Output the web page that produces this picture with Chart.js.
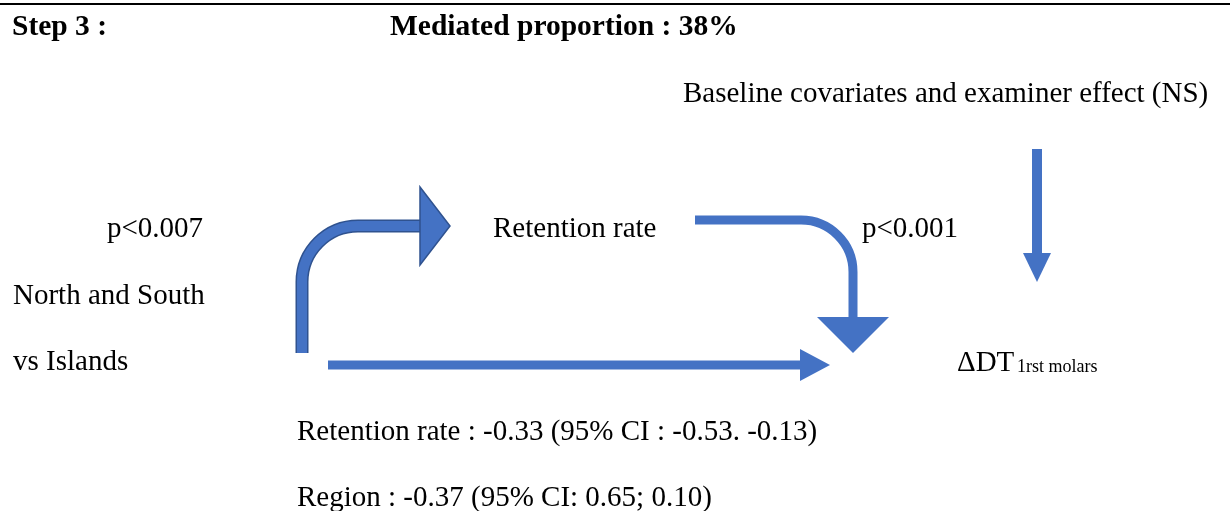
<!DOCTYPE html>
<html>
<head>
<meta charset="utf-8">
<script src="https://cdn.jsdelivr.net/npm/chart.js@4/dist/chart.umd.min.js"></script>
<style>
  html, body { margin: 0; padding: 0; background: #fff; }
  #wrap { width: 1230px; height: 511px; }
</style>
</head>
<body>
<div id="wrap"><canvas id="diagram" width="1230" height="511"></canvas></div>
<script>
// texts of the diagram
var labelTexts = ['Step 3 :', 'Mediated proportion : 38%', 'Baseline covariates and examiner effect (NS)',
  'p<0.007', 'Retention rate', 'p<0.001', 'North and South', 'vs Islands', '\u0394DT',
  'Retention rate : -0.33 (95% CI : -0.53. -0.13)', 'Region : -0.37 (95% CI: 0.65; 0.10)'];
var labelX = [12, 390, 683, 107, 493, 862, 13, 13, 957, 297, 297];
var labelY = [35, 35, 102, 237, 237, 237, 304, 370, 371, 440, 506];
var labelBold = [true, true, false, false, false, false, false, false, false, false, false];
var subText = '1rst molars';
var subPos = [1017, 372];

// arrow paths (waypoints) in diagram units
var arrowPaths = [
  [[302, 353], [302, 226], [420, 226]],
  [[695, 220], [853, 220], [853, 317]],
  [[328, 365], [800, 365]],
  [[1037, 149], [1037, 253]]
];
var arrowRadius = [56, 52, 0, 0];
var arrowWidth = [10, 9, 9, 10];
var headLen = [30, 36, 30, 29];
var headHalf = [39, 36, 16, 14];
var arrowOutline = [true, false, false, false];

var topRule = [[0, 4], [1230, 4]];

var fillBlue = '#4472c4';
var edgeBlue = '#2f528f';
var serif = '"Liberation Serif", "Times New Roman", serif';

var diagramPlugin = {
  id: 'diagram',
  afterDatasetsDraw: function (chart) {
    var ctx = chart.ctx;
    var sx = chart.scales.x, sy = chart.scales.y;
    function px(p) { return [sx.getPixelForValue(p[0]), sy.getPixelForValue(p[1])]; }

    ctx.save();
    // arrows
    for (var i = 0; i < arrowPaths.length; i++) {
      var pts = arrowPaths[i].map(px);
      var trace = function () {
        ctx.beginPath();
        ctx.moveTo(pts[0][0], pts[0][1]);
        for (var k = 1; k < pts.length - 1; k++) {
          ctx.arcTo(pts[k][0], pts[k][1], pts[k + 1][0], pts[k + 1][1], arrowRadius[i]);
        }
        ctx.lineTo(pts[pts.length - 1][0], pts[pts.length - 1][1]);
      };
      ctx.lineCap = 'butt';
      if (arrowOutline[i]) {
        trace();
        ctx.strokeStyle = edgeBlue;
        ctx.lineWidth = arrowWidth[i] + 3;
        ctx.stroke();
      }
      trace();
      ctx.strokeStyle = fillBlue;
      ctx.lineWidth = arrowWidth[i];
      ctx.stroke();

      // head
      var a = pts[pts.length - 2], b = pts[pts.length - 1];
      var dx = b[0] - a[0], dy = b[1] - a[1];
      var len = Math.sqrt(dx * dx + dy * dy);
      dx /= len; dy /= len;
      var nx = -dy, ny = dx;
      ctx.beginPath();
      ctx.moveTo(b[0] + nx * headHalf[i], b[1] + ny * headHalf[i]);
      ctx.lineTo(b[0] + dx * headLen[i], b[1] + dy * headLen[i]);
      ctx.lineTo(b[0] - nx * headHalf[i], b[1] - ny * headHalf[i]);
      ctx.closePath();
      ctx.fillStyle = fillBlue;
      ctx.fill();
      if (arrowOutline[i]) {
        ctx.strokeStyle = edgeBlue;
        ctx.lineWidth = 1.5;
        ctx.stroke();
      }
    }

    // top rule
    var r0 = px(topRule[0]), r1 = px(topRule[1]);
    ctx.beginPath();
    ctx.moveTo(r0[0], r0[1]);
    ctx.lineTo(r1[0], r1[1]);
    ctx.strokeStyle = '#000';
    ctx.lineWidth = 2;
    ctx.stroke();

    // texts
    ctx.fillStyle = '#000';
    ctx.textBaseline = 'alphabetic';
    ctx.textAlign = 'left';
    for (var j = 0; j < labelTexts.length; j++) {
      ctx.font = (labelBold[j] ? 'bold 29.5px ' : '29px ') + serif;
      var p = px([labelX[j], labelY[j]]);
      ctx.fillText(labelTexts[j], p[0], p[1]);
    }
    ctx.font = '18px ' + serif;
    var s = px(subPos);
    ctx.fillText(subText, s[0], s[1]);
    ctx.restore();
  }
};

new Chart(document.getElementById('diagram').getContext('2d'), {
  type: 'scatter',
  data: { datasets: [{ data: [], showLine: false }] },
  options: {
    responsive: false,
    animation: false,
    layout: { padding: 0 },
    plugins: { legend: { display: false }, tooltip: { enabled: false } },
    scales: {
      x: { type: 'linear', min: 0, max: 1230, display: false },
      y: { type: 'linear', min: 0, max: 511, reverse: true, display: false }
    }
  },
  plugins: [diagramPlugin]
});
</script>
</body>
</html>
